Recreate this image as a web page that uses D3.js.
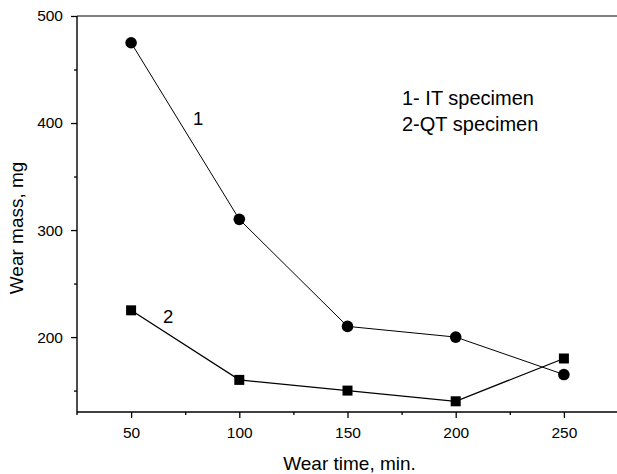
<!DOCTYPE html>
<html>
<head>
<meta charset="utf-8">
<script src="https://cdn.jsdelivr.net/npm/d3@7"></script>
<style>
  body { margin: 0; background: #fff; }
  text { font-family: Arial, 'Liberation Sans', sans-serif; fill: #000; }
</style>
</head>
<body>
<div id="chart"></div>
<script>
const wearTime = [50, 100, 150, 200, 250]
const massIT = [475, 310, 210, 200, 165]
const massQT = [225, 160, 150, 140, 180]
const xTicks = [50, 100, 150, 200, 250]
const xMinor = [75, 125, 175, 225]
const yTicks = [200, 300, 400, 500]
const yMinor = [150, 250, 350, 450]
const legendLines = ['1- IT specimen', '2-QT specimen']

const width = 617
const height = 474
const margin = { top: 16, right: -1, bottom: 62, left: 77 }

const svg = d3.select('#chart').append('svg')
  .attr('width', width)
  .attr('height', height)

const x = d3.scaleLinear().domain([25, 275])
  .range([margin.left, width - margin.right])
const y = d3.scaleLinear().domain([130, 500])
  .range([height - margin.bottom, margin.top])

// frame: left, bottom, top lines
const frame = svg.append('g').attr('stroke', '#000')
frame.append('line')
  .attr('stroke-width', 1.4)
  .attr('x1', x(25)).attr('x2', x(25)).attr('y1', y(500)).attr('y2', y(130) + 3)
frame.append('line')
  .attr('stroke-width', 1.4)
  .attr('x1', x(25)).attr('x2', x(275)).attr('y1', y(130)).attr('y2', y(130))
frame.append('line')
  .attr('stroke-width', 1.1)
  .attr('x1', x(25)).attr('x2', x(275)).attr('y1', y(500)).attr('y2', y(500))

// x axis
const xAxis = svg.append('g')
  .attr('transform', `translate(0,${y(130)})`)
  .call(d3.axisBottom(x).tickValues(xTicks).tickSize(6).tickPadding(9))
xAxis.append('g')
  .call(d3.axisBottom(x).tickValues(xMinor).tickSize(3).tickFormat(''))
svg.selectAll('.domain').remove()

// y axis
const yAxis = svg.append('g')
  .attr('transform', `translate(${x(25)},0)`)
  .call(d3.axisLeft(y).tickValues(yTicks).tickSize(6).tickPadding(8))
yAxis.append('g')
  .call(d3.axisLeft(y).tickValues(yMinor).tickSize(3).tickFormat(''))
svg.selectAll('.domain').remove()

svg.selectAll('.tick line').attr('stroke', '#000').attr('stroke-width', 1.3)
svg.selectAll('.tick text')
  .attr('fill', '#000')
  .style('font-size', '15.5px')

// axis titles
svg.append('text')
  .attr('x', 349.5)
  .attr('y', 470)
  .attr('text-anchor', 'middle')
  .style('font-size', '19px')
  .text('Wear time, min.')

svg.append('text')
  .attr('transform', `translate(23,${y(302)}) rotate(-90)`)
  .attr('text-anchor', 'middle')
  .style('font-size', '19px')
  .text('Wear mass, mg')

// series lines
const line = d3.line()
  .x((d, i) => x(wearTime[i]))
  .y((d) => y(d))

svg.append('path')
  .datum(massIT)
  .attr('fill', 'none')
  .attr('stroke', '#000')
  .attr('stroke-width', 1)
  .attr('d', line)

svg.append('path')
  .datum(massQT)
  .attr('fill', 'none')
  .attr('stroke', '#000')
  .attr('stroke-width', 1.3)
  .attr('d', line)

// markers
svg.selectAll('.ptIT')
  .data(massIT)
  .enter()
  .append('circle')
  .attr('class', 'ptIT')
  .attr('cx', (d, i) => x(wearTime[i]))
  .attr('cy', (d) => y(d))
  .attr('r', 5.8)
  .attr('fill', '#000')

svg.selectAll('.ptQT')
  .data(massQT)
  .enter()
  .append('rect')
  .attr('class', 'ptQT')
  .attr('x', (d, i) => x(wearTime[i]) - 5)
  .attr('y', (d) => y(d) - 5)
  .attr('width', 10)
  .attr('height', 10)
  .attr('fill', '#000')

// curve labels
svg.append('text')
  .attr('x', x(78.6))
  .attr('y', 125)
  .style('font-size', '18.5px')
  .text('1')

svg.append('text')
  .attr('x', x(64.7))
  .attr('y', 323)
  .style('font-size', '18.5px')
  .text('2')

// legend text
svg.selectAll('.legend')
  .data(legendLines)
  .enter()
  .append('text')
  .attr('class', 'legend')
  .attr('x', 402)
  .attr('y', (d, i) => 105 + i * 26)
  .style('font-size', '20px')
  .text((d) => d)
</script>
</body>
</html>
